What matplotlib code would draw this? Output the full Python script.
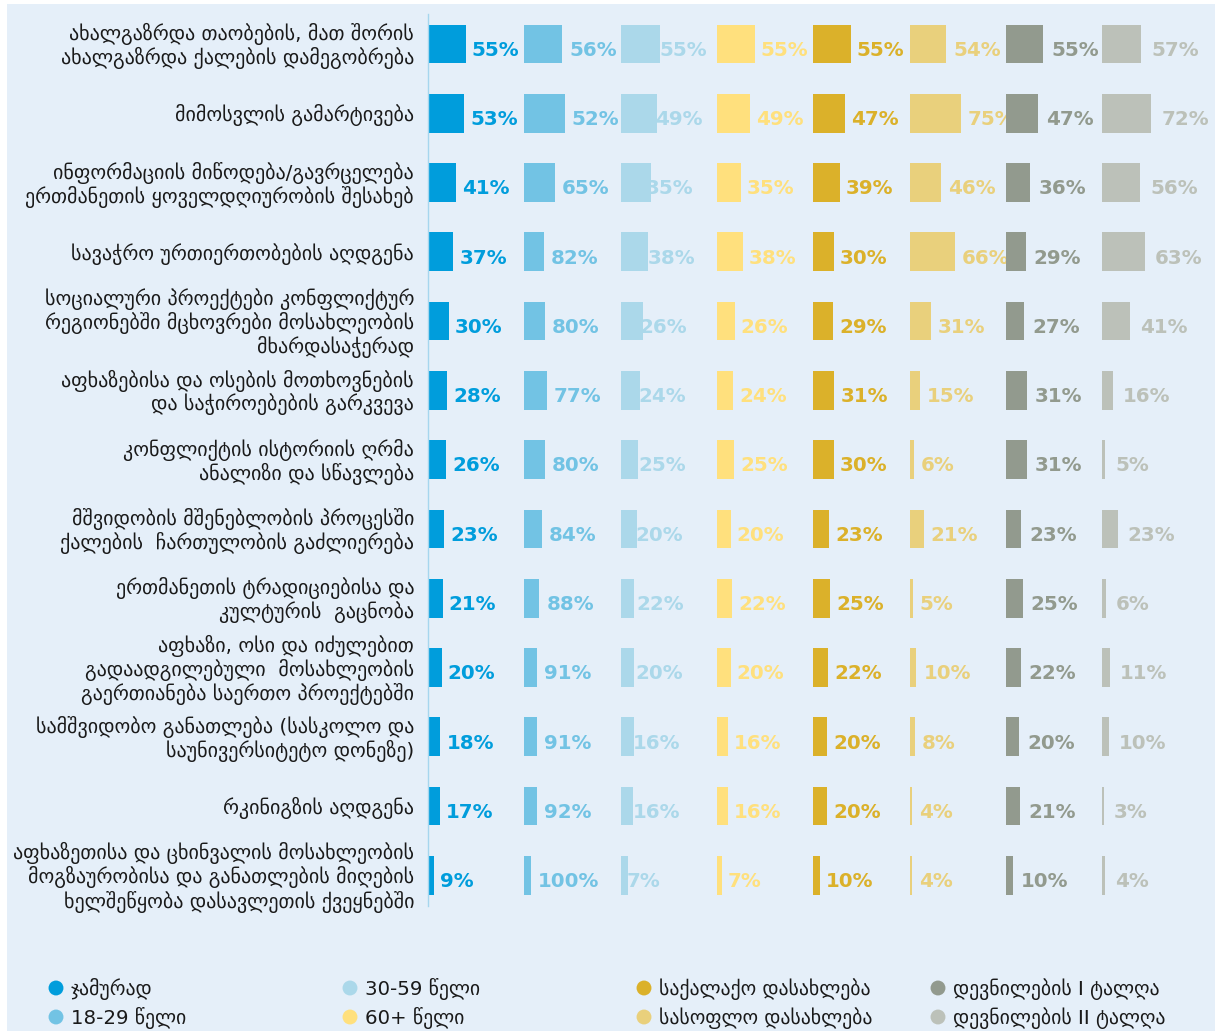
import matplotlib
matplotlib.use('Agg')
import matplotlib.pyplot as plt
from matplotlib.patches import Rectangle
from matplotlib import transforms
import numpy as np

plt.rcParams['font.family'] = ['DejaVu Sans']

categories = [
    "ახალგაზრდა თაობების, მათ შორის\nახალგაზრდა ქალების დამეგობრება",
    "მიმოსვლის გამარტივება",
    "ინფორმაციის მიწოდება/გავრცელება\nერთმანეთის ყოველდღიურობის შესახებ",
    "სავაჭრო ურთიერთობების აღდგენა",
    "სოციალური პროექტები კონფლიქტურ\nრეგიონებში მცხოვრები მოსახლეობის\nმხარდასაჭერად",
    "აფხაზებისა და ოსების მოთხოვნების\nდა საჭიროებების გარკვევა",
    "კონფლიქტის ისტორიის ღრმა\nანალიზი და სწავლება",
    "მშვიდობის მშენებლობის პროცესში\nქალების  ჩართულობის გაძლიერება",
    "ერთმანეთის ტრადიციებისა და\nკულტურის  გაცნობა",
    "აფხაზი, ოსი და იძულებით\nგადაადგილებული  მოსახლეობის\nგაერთიანება საერთო პროექტებში",
    "სამშვიდობო განათლება (სასკოლო და\nსაუნივერსიტეტო დონეზე)",
    "რკინიგზის აღდგენა",
    "აფხაზეთისა და ცხინვალის მოსახლეობის\nმოგზაურობისა და განათლების მიღების\nხელშეწყობა დასავლეთის ქვეყნებში",
]

series_names = ["ჯამურად", "18-29 წელი", "30-59 წელი", "60+ წელი",
                "საქალაქო დასახლება", "სასოფლო დასახლება",
                "დევნილების I ტალღა", "დევნილების II ტალღა"]

# printed labels (percent)
total_lbl   = [55, 53, 41, 37, 30, 28, 26, 23, 21, 20, 18, 17, 9]
age1829_lbl = [56, 52, 65, 82, 80, 77, 80, 84, 88, 91, 91, 92, 100]
age3059_lbl = [55, 49, 35, 38, 26, 24, 25, 20, 22, 20, 16, 16, 7]
age60_lbl   = [55, 49, 35, 38, 26, 24, 25, 20, 22, 20, 16, 16, 7]
urban_lbl   = [55, 47, 39, 30, 29, 31, 30, 23, 25, 22, 20, 20, 10]
rural_lbl   = [54, 75, 46, 66, 31, 15, 6, 21, 5, 10, 8, 4, 4]
wave1_lbl   = [55, 47, 36, 29, 27, 31, 31, 23, 25, 22, 20, 21, 10]
wave2_lbl   = [57, 72, 56, 63, 41, 16, 5, 23, 6, 11, 10, 3, 4]

# bar lengths as drawn (two age groups are drawn with lengths differing from their labels)
age1829_bar = [55, 59, 45, 28, 30, 33, 30, 26, 22, 19, 19, 18, 10]
age3059_bar = [57, 53, 44, 40, 33, 28, 25, 24, 20, 20, 19, 18, 10]

labels = [total_lbl, age1829_lbl, age3059_lbl, age60_lbl,
          urban_lbl, rural_lbl, wave1_lbl, wave2_lbl]
bars = [total_lbl, age1829_bar, age3059_bar, age60_lbl,
        urban_lbl, rural_lbl, wave1_lbl, wave2_lbl]
# where the label sits: after the bar, or after the label's own value
anchors = [total_lbl, age1829_bar, age3059_lbl, age60_lbl,
           urban_lbl, rural_lbl, wave1_lbl, wave2_lbl]

colors = ["#009ddc", "#72c3e4", "#abd8ea", "#ffe07d",
          "#dbb12a", "#e9d07c", "#929a8e", "#bcc1b9"]

W, H = 1215, 1031
fig = plt.figure(figsize=(W / 100, H / 100), dpi=100)
fig.patch.set_facecolor('white')
fig.patches.append(Rectangle((7 / W, 0), 1 - 7 / W, 1 - 3.5 / H,
                             transform=fig.transFigure, facecolor='#e5eff9',
                             edgecolor='none', zorder=-10))

px_per_unit = 0.683
x0, top, bot = 428.2, 13.5, 905.8
ax = fig.add_axes([x0 / W, 1 - bot / H, (W - x0) / W, (bot - top) / H])
ax.patch.set_visible(False)
ax.set_xlim(0, (W - x0) / px_per_unit)
ax.set_ylim(len(categories) - 1 + 0.44, -0.44)
step = 96.26 / px_per_unit
gaps_px = [6, 7, 1, 6, 6, 7, 8, 10]

y = np.arange(len(categories))
for i in range(len(series_names)):
    off = i * step
    ax.barh(y, bars[i], left=off, height=0.56, color=colors[i], zorder=2)
    g = gaps_px[i] / px_per_unit
    for j in range(len(categories)):
        ax.text(off + anchors[i][j] + g, j + 0.17, f"{labels[i][j]}%",
                ha='left', va='baseline', fontsize=14.3, fontweight='bold',
                color=colors[i], zorder=1)

for s in ['top', 'right', 'bottom']:
    ax.spines[s].set_visible(False)
ax.spines['left'].set_color('#a6d6ee')
ax.spines['left'].set_linewidth(1.0)
ax.set_xticks([])
ax.set_yticks([])

tr = transforms.blended_transform_factory(fig.transFigure, ax.transData)
for j, c in enumerate(categories):
    ax.text(414 / W, j + 0.03, c, transform=tr, ha='right', va='center',
            multialignment='right', fontsize=14.4, color='#1a1a1a',
            linespacing=1.12)

# legend
lax = fig.add_axes([0, 0, 1, 1])
lax.set_xlim(0, W)
lax.set_ylim(H, 0)
lax.axis('off')
lax.patch.set_visible(False)
for i, name in enumerate(series_names):
    col, row = i // 2, i % 2
    mx = 56 + col * 294
    my = 988 + row * 29
    lax.scatter([mx], [my], s=115, color=colors[i], edgecolors='none')
    lax.text(mx + 15, my + 1, name, ha='left', va='center', fontsize=14.2,
             color='#1a1a1a')

fig.savefig('out.png', dpi=100, facecolor=fig.get_facecolor())
